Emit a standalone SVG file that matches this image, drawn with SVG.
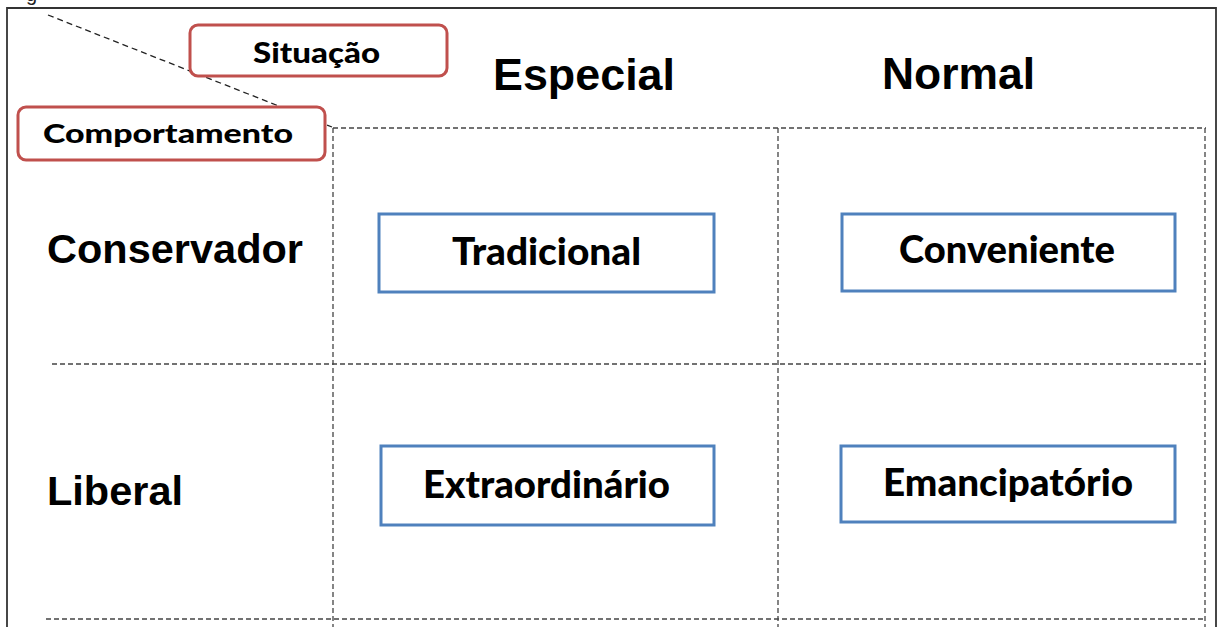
<svg xmlns="http://www.w3.org/2000/svg" width="1219" height="627" viewBox="0 0 1219 627">
<style>
.hdr{font-family:"Liberation Sans",Arial,sans-serif;font-weight:bold;fill:#000}
.lbl{font-family:Lato,"Open Sans",sans-serif;font-weight:900;fill:#000}
.red{fill:#fff;stroke:#C0504D;stroke-width:3}
.blue{fill:#fff;stroke:#4F81BD;stroke-width:3}
.grid{stroke:#444;stroke-width:1.3;stroke-dasharray:5 3;fill:none}
.diag{stroke:#222;stroke-width:1.3;stroke-dasharray:6 4;fill:none}
.frame{stroke:#333;stroke-width:1.8;fill:none}
</style>
<rect width="1219" height="627" fill="#fff"/>
<text x="26" y="1" font-family="Liberation Sans,Arial,sans-serif" font-size="20" fill="#222">g</text>
<path class="frame" d="M7,627 V8 H1216 V627"/>
<g id="connectors">
  <line class="diag" x1="48" y1="15" x2="332" y2="127"/>
  <line class="grid" x1="333" y1="128" x2="1206" y2="128"/>
  <line class="grid" x1="52" y1="364" x2="1206" y2="364"/>
  <line class="grid" x1="46" y1="619" x2="1206" y2="619"/>
  <line class="grid" x1="333" y1="128" x2="333" y2="627"/>
  <line class="grid" x1="778" y1="128" x2="778" y2="627"/>
  <line class="grid" x1="1205" y1="128" x2="1205" y2="627"/>
</g>
<g id="situacao">
  <rect class="red" x="190" y="25" width="257" height="51" rx="8"/>
  <text class="lbl" x="253" y="63" font-size="28" textLength="127" lengthAdjust="spacingAndGlyphs">Situação</text>
</g>
<g id="comportamento">
  <rect class="red" x="18" y="107" width="307" height="53" rx="8"/>
  <text class="lbl" x="43" y="143" font-size="27" textLength="250" lengthAdjust="spacingAndGlyphs">Comportamento</text>
</g>
<g id="especial"><text class="hdr" x="493" y="90" font-size="45" textLength="182" lengthAdjust="spacingAndGlyphs">Especial</text></g>
<g id="normal"><text class="hdr" x="882" y="89" font-size="45" textLength="153" lengthAdjust="spacingAndGlyphs">Normal</text></g>
<g id="conservador"><text class="hdr" x="47" y="263" font-size="41" textLength="256" lengthAdjust="spacingAndGlyphs">Conservador</text></g>
<g id="liberal"><text class="hdr" x="47" y="505" font-size="41" textLength="136" lengthAdjust="spacingAndGlyphs">Liberal</text></g>
<g id="tradicional">
  <rect class="blue" x="379" y="214" width="335" height="78"/>
  <text class="lbl" x="452" y="265" font-size="38" textLength="189" lengthAdjust="spacingAndGlyphs">Tradicional</text>
</g>
<g id="conveniente">
  <rect class="blue" x="842" y="214" width="333" height="77"/>
  <text class="lbl" x="899" y="263" font-size="38" textLength="216" lengthAdjust="spacingAndGlyphs">Conveniente</text>
</g>
<g id="extraordinario">
  <rect class="blue" x="381" y="446" width="333" height="79"/>
  <text class="lbl" x="423" y="498" font-size="38" textLength="247" lengthAdjust="spacingAndGlyphs">Extraordinário</text>
</g>
<g id="emancipatorio">
  <rect class="blue" x="841" y="446" width="334" height="76"/>
  <text class="lbl" x="883" y="496" font-size="38" textLength="250" lengthAdjust="spacingAndGlyphs">Emancipatório</text>
</g>
</svg>
